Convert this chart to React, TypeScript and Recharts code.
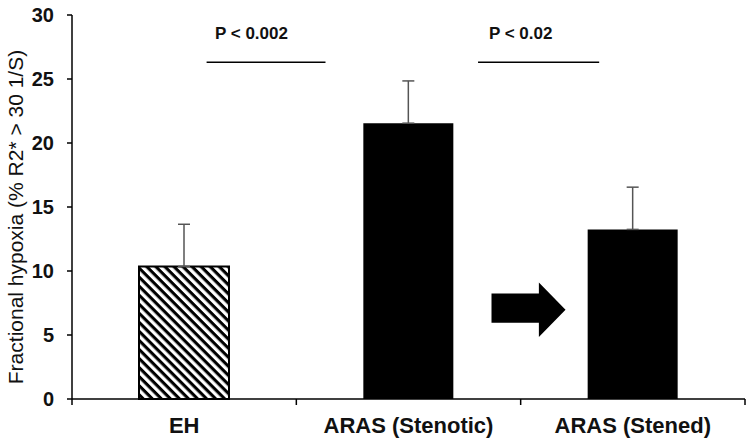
import React from 'react';
import {
  BarChart,
  Bar,
  XAxis,
  YAxis,
  ErrorBar,
  Cell,
  ReferenceLine,
  ReferenceDot,
  ReferenceArea,
} from 'recharts';

document.body.style.margin = '0';

// groups and their slot on the x scale
const categories = ['EH', 'ARAS (Stenotic)', 'ARAS (Stened)'];
const positions = [0.5, 1.5, 2.5];
const means = [10.35, 21.55, 13.25];
const errors = [3.3, 3.3, 3.3];

const yTicks = [0, 5, 10, 15, 20, 25, 30];
const xTicks = [0, 0.5, 1, 1.5, 2, 2.5, 3];

// significance annotations
const pLabels = ['P < 0.002', 'P < 0.02'];
const pLabelX = [0.8, 2.0];
const pLabelY = 28.6;
const pLineStart = [0.6, 1.81];
const pLineEnd = [1.13, 2.35];
const pLineY = 26.3;

// arrow between the two ARAS bars
const arrowX = [1.87, 2.2];
const arrowY = [4.85, 9.1];

const FONT = '"Liberation Sans", Arial, sans-serif';

const data = categories.map((name, i) => ({
  name,
  x: positions[i],
  mean: means[i],
  err: [0, errors[i]],
}));

const XTick = (props: any) => {
  const { x, y, payload } = props;
  const v = payload.value;
  if (Number.isInteger(v)) {
    return <line x1={x} y1={y} x2={x} y2={y + 6} stroke="#000" strokeWidth={1.5} />;
  }
  const idx = positions.indexOf(v);
  return (
    <text
      x={x}
      y={y + 18}
      dy="0.71em"
      textAnchor="middle"
      fontFamily={FONT}
      fontSize={22}
      fontWeight="bold"
      fill="#111"
    >
      {categories[idx]}
    </text>
  );
};

const YLabel = (props: any) => {
  const { viewBox } = props;
  const cx = viewBox.x + 15;
  const cy = viewBox.y + viewBox.height / 2 + 10;
  return (
    <text
      transform={`translate(${cx},${cy}) rotate(-90)`}
      textAnchor="middle"
      dominantBaseline="central"
      fontFamily={FONT}
      fontSize={21}
      fill="#111"
    >
      Fractional hypoxia (% R2* &gt; 30 1/S)
    </text>
  );
};

const Arrow = (props: any) => {
  const { x, y, width, height } = props;
  const hx = x + width * 0.64;
  const b1 = y + height * 0.2;
  const b2 = y + height * 0.74;
  const pts = [
    [x, b1],
    [hx, b1],
    [hx, y],
    [x + width, y + height / 2],
    [hx, y + height],
    [hx, b2],
    [x, b2],
  ]
    .map((p) => p.join(','))
    .join(' ');
  return <polygon points={pts} fill="#000" />;
};

export default function App() {
  return (
    <div style={{ width: 750, height: 441, background: '#fff', fontFamily: FONT }}>
      <BarChart
        width={750}
        height={441}
        data={data}
        margin={{ top: 15, right: 5, left: 0, bottom: 0 }}
      >
        <defs>
          <pattern
            id="hatch"
            patternUnits="userSpaceOnUse"
            width={6.4}
            height={6.4}
            patternTransform="rotate(45)"
          >
            <rect width={6.4} height={6.4} fill="#fff" />
            <rect width={6.4} height={3.1} fill="#000" />
          </pattern>
        </defs>
        <XAxis
          dataKey="x"
          type="number"
          domain={[0, 3]}
          ticks={xTicks}
          interval={0}
          height={42}
          tickLine={false}
          tickSize={0}
          tickMargin={0}
          axisLine={{ stroke: '#000', strokeWidth: 1.5 }}
          tick={<XTick />}
        />
        <YAxis
          domain={[0, 30]}
          ticks={yTicks}
          interval={0}
          width={72}
          tickSize={5}
          tickMargin={13}
          axisLine={{ stroke: '#000', strokeWidth: 1.5 }}
          tickLine={{ stroke: '#000', strokeWidth: 1.5 }}
          tick={{ fontSize: 20, fontWeight: 'bold', fill: '#111', fontFamily: FONT }}
          label={<YLabel />}
        />
        <Bar dataKey="mean" barSize={90} isAnimationActive={false}>
          {data.map((d, i) => (
            <Cell
              key={d.name}
              fill={i === 0 ? 'url(#hatch)' : '#000'}
              stroke="#000"
              strokeWidth={i === 0 ? 2 : 0}
            />
          ))}
          <ErrorBar dataKey="err" direction="y" width={6} stroke="#555" strokeWidth={1.5} />
        </Bar>
        {pLabels.map((p, i) => (
          <ReferenceLine
            key={`l${i}`}
            segment={[
              { x: pLineStart[i], y: pLineY },
              { x: pLineEnd[i], y: pLineY },
            ]}
            stroke="#000"
            strokeWidth={1.5}
          />
        ))}
        {pLabels.map((p, i) => (
          <ReferenceDot
            key={`t${i}`}
            x={pLabelX[i]}
            y={pLabelY}
            r={0}
            fill="none"
            stroke="none"
            label={{
              value: p,
              position: 'center',
              fill: '#111',
              fontSize: 17,
              fontWeight: 'bold',
              fontFamily: FONT,
            }}
          />
        ))}
        <ReferenceArea
          x1={arrowX[0]}
          x2={arrowX[1]}
          y1={arrowY[0]}
          y2={arrowY[1]}
          shape={<Arrow />}
        />
      </BarChart>
    </div>
  );
}
